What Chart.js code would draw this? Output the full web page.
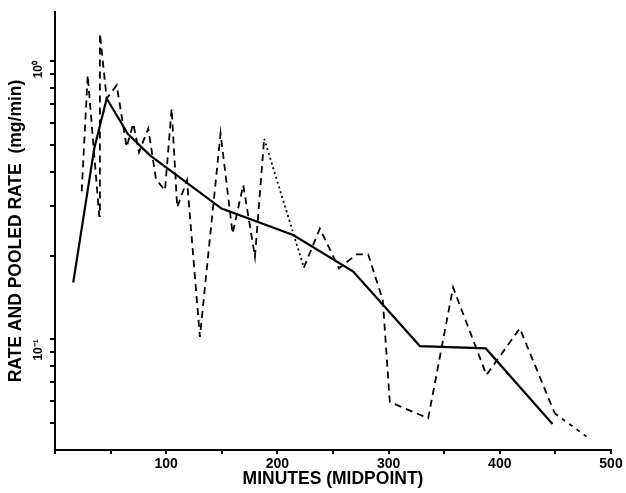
<!DOCTYPE html>
<html>
<head>
<meta charset="utf-8">
<script src="https://cdn.jsdelivr.net/npm/chart.js@4.4.1/dist/chart.umd.min.js"></script>
<style>
    html, body { margin: 0; padding: 0; background: #fff; }
    #wrap { width: 626px; height: 493px; position: relative; }
</style>
</head>
<body>
<div id="wrap"><canvas id="rateChart"></canvas></div>
<script>
// pooled rate (solid line)
const pooledMinutes = [16.4, 35.3, 46.5, 65.6, 85.4, 149.8, 214.2, 268.2, 328.1, 387.4, 447.4];
const pooledRate = [0.160, 0.485, 0.733, 0.546, 0.458, 0.295, 0.237, 0.175, 0.0945, 0.0927, 0.0496];

// rate per interval (dashed line)
const rateMinutes = [24, 29.4, 39.8, 40.4, 46.5, 55.5, 64.4, 70.4, 75.5, 83.9,
    90.8, 98.9, 104.9, 109.9, 118.7, 130.3, 148.9, 159.7, 169.3, 179.8,
    188.1, 223.8, 238.2, 255.3, 271.2, 281.6, 294.8, 301.1, 335.6, 358,
    388, 418, 449.4, 477.9];
const rateValues = [0.340, 0.889, 0.277, 1.254, 0.733, 0.818, 0.491, 0.596, 0.470, 0.572,
    0.376, 0.343, 0.675, 0.298, 0.373, 0.102, 0.549, 0.240, 0.358, 0.198,
    0.526, 0.181, 0.250, 0.180, 0.202, 0.202, 0.138, 0.0595, 0.052, 0.1536,
    0.0744, 0.1094, 0.0542, 0.0447];

const yTickValues = [0.05, 0.06, 0.07, 0.08, 0.09, 0.1, 0.2, 0.3, 0.4, 0.5, 0.6, 0.7, 0.8, 0.9, 1];
const yTickLabels = { 1: '10\u2070', 0.1: '10\u207B\u00B9' };
const xLabelValues = [100, 200, 300, 400, 500];

const fontFamily = "'Liberation Sans', Arial, sans-serif";

const toPoints = (xs, ys) => xs.map((x, i) => ({ x: x, y: ys[i] }));

const ctx = document.getElementById('rateChart').getContext('2d');
new Chart(ctx, {
    type: 'line',
    data: {
        datasets: [
            {
                label: 'Pooled rate',
                data: toPoints(pooledMinutes, pooledRate),
                borderColor: '#000',
                borderWidth: 2.2,
                pointRadius: 0,
                tension: 0,
                fill: false
            },
            {
                label: 'Rate',
                data: toPoints(rateMinutes, rateValues),
                borderColor: '#000',
                borderWidth: 1.8,
                pointRadius: 0,
                tension: 0,
                fill: false,
                segment: {
                    borderDash: function (c) {
                        if (c.p0DataIndex === 20) return [2, 3];
                        if (c.p0DataIndex === 32) return [4, 5];
                        return [7, 5];
                    }
                }
            }
        ]
    },
    options: {
        responsive: true,
        maintainAspectRatio: false,
        animation: false,
        layout: { padding: { top: 12, right: 15, left: 0, bottom: 0 } },
        plugins: {
            legend: { display: false },
            tooltip: { enabled: false }
        },
        scales: {
            x: {
                type: 'linear',
                min: 0,
                max: 500,
                border: { display: true, color: '#000', width: 2 },
                grid: { display: true, drawOnChartArea: false, drawTicks: true, tickLength: 4, color: '#000', lineWidth: 2 },
                ticks: {
                    stepSize: 50,
                    autoSkip: false,
                    maxRotation: 0,
                    padding: 2,
                    color: '#000',
                    font: { family: fontFamily, size: 14, weight: 'bold' },
                    callback: function (value) {
                        return xLabelValues.includes(value) ? String(value) : '';
                    }
                },
                title: {
                    display: true,
                    text: 'MINUTES (MIDPOINT)',
                    color: '#000',
                    font: { family: fontFamily, size: 17.5, weight: 'bold' },
                    padding: { top: 0, bottom: 3 }
                },
                afterFit: function (scale) {
                    scale.height = 43;
                    scale.paddingLeft = 0;
                    scale.paddingRight = 0;
                }
            },
            y: {
                type: 'logarithmic',
                min: 0.04,
                max: 1.5,
                border: { display: true, color: '#000', width: 2 },
                grid: { display: true, drawOnChartArea: false, drawTicks: true, tickLength: 5, color: '#000', lineWidth: 2 },
                afterBuildTicks: function (scale) {
                    scale.ticks = yTickValues.map(v => ({ value: v }));
                },
                ticks: {
                    autoSkip: false,
                    minRotation: 90,
                    maxRotation: 90,
                    padding: 11,
                    color: '#000',
                    font: { family: fontFamily, size: 12, weight: 'bold' },
                    callback: function (value) {
                        return yTickLabels[value] || '';
                    }
                },
                title: {
                    display: true,
                    text: 'RATE AND POOLED RATE  (mg/min)',
                    color: '#000',
                    font: { family: fontFamily, size: 17.5, weight: 'bold' },
                    padding: { top: 6, bottom: 0 }
                },
                afterFit: function (scale) {
                    scale.width = 55;
                    scale.paddingTop = 0;
                    scale.paddingBottom = 0;
                }
            }
        }
    }
});
</script>
</body>
</html>
